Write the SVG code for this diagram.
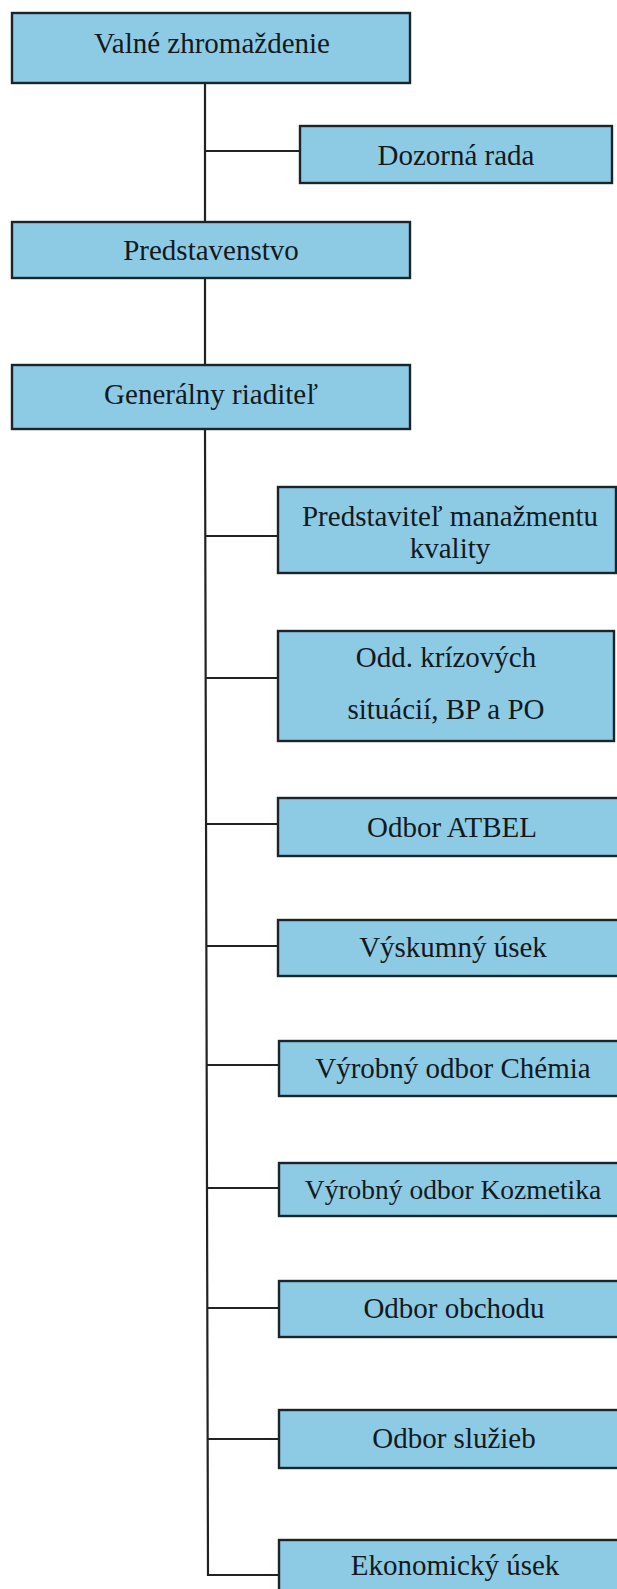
<svg xmlns="http://www.w3.org/2000/svg" width="617" height="1589" viewBox="0 0 617 1589">
<style>
.box{fill:#8dcbe5;stroke:#1b2529;stroke-width:2.4}
.t{font-family:"Liberation Serif","Times New Roman",serif;font-size:29px;fill:#14191c;text-anchor:middle}
.c{stroke:#222;stroke-width:2.2;fill:none}
</style>
<rect width="617" height="1589" fill="#ffffff"/>
<g id="connectors">
<line class="c" x1="205" y1="83" x2="205" y2="222"/>
<line class="c" x1="205" y1="151" x2="300" y2="151"/>
<line class="c" x1="205" y1="278" x2="205" y2="365"/>
<path class="c" d="M205,429 L208,1575 L279,1575"/>
<line class="c" x1="205" y1="536" x2="278" y2="536"/>
<line class="c" x1="205" y1="678" x2="278" y2="678"/>
<line class="c" x1="205" y1="824" x2="278" y2="824"/>
<line class="c" x1="206" y1="946" x2="278" y2="946"/>
<line class="c" x1="206" y1="1065" x2="279" y2="1065"/>
<line class="c" x1="206" y1="1188" x2="279" y2="1188"/>
<line class="c" x1="207" y1="1308" x2="279" y2="1308"/>
<line class="c" x1="207" y1="1439" x2="279" y2="1439"/>
</g>
<g id="valne"><rect class="box" x="12" y="13" width="398" height="70"/><text class="t" x="212" y="53">Valné zhromaždenie</text></g>
<g id="dozorna"><rect class="box" x="300" y="126" width="312" height="57"/><text class="t" x="456" y="165">Dozorná rada</text></g>
<g id="predstavenstvo"><rect class="box" x="12" y="222" width="398" height="56"/><text class="t" x="211" y="260">Predstavenstvo</text></g>
<g id="generalny"><rect class="box" x="12" y="365" width="398" height="64"/><text class="t" x="211" y="404">Generálny riaditeľ</text></g>
<g id="kvalita"><rect class="box" x="278" y="487" width="338" height="86"/><text class="t" x="450" y="526">Predstaviteľ manažmentu</text><text class="t" x="450" y="558">kvality</text></g>
<g id="krizove"><rect class="box" x="278" y="631" width="336" height="110"/><text class="t" x="446" y="667">Odd. krízových</text><text class="t" x="446" y="719">situácií, BP a PO</text></g>
<g id="atbel"><rect class="box" x="278" y="798" width="345" height="58"/><text class="t" x="452" y="837">Odbor ATBEL</text></g>
<g id="vyskum"><rect class="box" x="278" y="920" width="345" height="56"/><text class="t" x="453" y="957">Výskumný úsek</text></g>
<g id="chemia"><rect class="box" x="279" y="1041" width="345" height="55"/><text class="t" x="453" y="1078">Výrobný odbor Chémia</text></g>
<g id="kozmetika"><rect class="box" x="279" y="1163" width="345" height="53"/><text class="t" x="453" y="1199" style="font-size:27.5px">Výrobný odbor Kozmetika</text></g>
<g id="obchod"><rect class="box" x="279" y="1281" width="345" height="56"/><text class="t" x="454" y="1318">Odbor obchodu</text></g>
<g id="sluzby"><rect class="box" x="279" y="1410" width="345" height="58"/><text class="t" x="454" y="1448">Odbor služieb</text></g>
<g id="ekonomika"><rect class="box" x="279" y="1540" width="345" height="58"/><text class="t" x="455" y="1575">Ekonomický úsek</text></g>
</svg>
